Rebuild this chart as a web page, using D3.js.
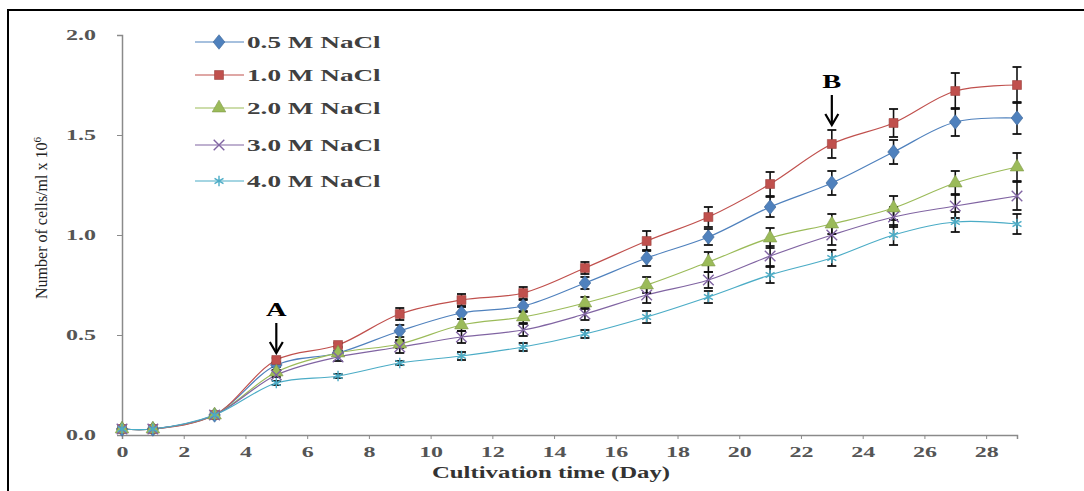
<!DOCTYPE html>
<html>
<head>
<meta charset="utf-8">
<script src="https://cdn.jsdelivr.net/npm/d3@7"></script>
<style>
  body { margin: 0; background: #fff; }
  svg { display: block; }
</style>
</head>
<body>
<script>
// days sampled
var days = [0, 1, 3, 5, 7, 9, 11, 13, 15, 17, 19, 21, 23, 25, 27, 29];

var nacl05 = [0.03, 0.03, 0.10, 0.35, 0.41, 0.52, 0.61, 0.645, 0.76, 0.885, 0.99, 1.14, 1.26, 1.415, 1.565, 1.585];
var nacl10 = [0.03, 0.03, 0.10, 0.375, 0.45, 0.605, 0.675, 0.71, 0.835, 0.97, 1.09, 1.255, 1.455, 1.56, 1.72, 1.75];
var nacl20 = [0.03, 0.03, 0.10, 0.315, 0.41, 0.455, 0.55, 0.59, 0.66, 0.75, 0.865, 0.985, 1.055, 1.135, 1.26, 1.34];
var nacl30 = [0.03, 0.03, 0.10, 0.30, 0.39, 0.44, 0.49, 0.525, 0.605, 0.70, 0.775, 0.895, 1.0, 1.09, 1.145, 1.195];
var nacl40 = [0.03, 0.03, 0.10, 0.26, 0.295, 0.36, 0.395, 0.44, 0.505, 0.59, 0.69, 0.80, 0.885, 1.0, 1.065, 1.055];

var err05 = [0, 0, 0, 0.01, 0.01, 0.03, 0.03, 0.03, 0.03, 0.04, 0.04, 0.05, 0.06, 0.06, 0.07, 0.08];
var err10 = [0, 0, 0, 0.01, 0.01, 0.03, 0.03, 0.03, 0.03, 0.05, 0.05, 0.06, 0.07, 0.07, 0.09, 0.09];
var err20 = [0, 0, 0, 0.01, 0.01, 0.02, 0.03, 0.03, 0.03, 0.04, 0.05, 0.05, 0.05, 0.06, 0.06, 0.07];
var err30 = [0, 0, 0, 0.01, 0.02, 0.03, 0.03, 0.03, 0.03, 0.04, 0.04, 0.05, 0.05, 0.05, 0.06, 0.07];
var err40 = [0, 0, 0, 0.01, 0.01, 0.01, 0.02, 0.02, 0.02, 0.03, 0.03, 0.04, 0.04, 0.05, 0.05, 0.05];

var seriesNames = ["0.5 M NaCl", "1.0 M NaCl", "2.0 M NaCl", "3.0 M NaCl", "4.0 M NaCl"];
var seriesColors = ["#4F81BD", "#C0504D", "#9BBB59", "#8064A2", "#4BACC6"];
var xTicks = [0, 2, 4, 6, 8, 10, 12, 14, 16, 18, 20, 22, 24, 26, 28];
var yTicks = [0.0, 0.5, 1.0, 1.5, 2.0];

var series = [
  { name: seriesNames[0], color: seriesColors[0], values: nacl05, err: err05, shape: d3.symbolDiamond, size: 75, stroke: false },
  { name: seriesNames[1], color: seriesColors[1], values: nacl10, err: err10, shape: d3.symbolSquare, size: 80, stroke: false },
  { name: seriesNames[2], color: seriesColors[2], values: nacl20, err: err20, shape: d3.symbolTriangle, size: 80, stroke: false },
  { name: seriesNames[3], color: seriesColors[3], values: nacl30, err: err30, shape: d3.symbolX, size: 75, stroke: true },
  { name: seriesNames[4], color: seriesColors[4], values: nacl40, err: err40, shape: d3.symbolAsterisk, size: 75, stroke: true }
];

var W = 1084, H = 491;
var SX = 1.6; // the picture's text is stretched wide
var svg = d3.select("body").append("svg").attr("width", W).attr("height", H);

// frame (only top & left edges visible)
svg.append("path")
  .attr("d", "M8,491 L8,10 L1084,10")
  .attr("fill", "none")
  .attr("stroke", "#000")
  .attr("stroke-width", 2);

var x = d3.scaleLinear().domain([0, 29]).range([122, 1017]);
var y = d3.scaleLinear().domain([0, 2]).range([435, 35]);

// y axis
var yAxis = svg.append("g")
  .attr("transform", "translate(122,0)")
  .call(d3.axisLeft(y).tickValues(yTicks).tickFormat(d3.format(".1f")).tickSize(5).tickPadding(21));
// x axis
var xAxis = svg.append("g")
  .attr("transform", "translate(0,435)")
  .call(d3.axisBottom(x).tickValues(xTicks).tickSize(4).tickPadding(7));

[xAxis, yAxis].forEach(function(a) {
  a.select(".domain").attr("stroke", "#8a8a8a").attr("stroke-width", 1.5);
  a.selectAll(".tick line").attr("stroke", "#8a8a8a");
  a.selectAll(".tick text")
    .attr("fill", "#555")
    .attr("font-family", "Liberation Serif, serif")
    .attr("font-weight", "bold")
    .attr("font-size", 15)
    .attr("transform", "scale(" + SX + ",1)");
});
yAxis.selectAll(".tick text").attr("x", -26 / SX);

// axis titles
svg.append("text")
  .attr("transform", "translate(551,478) scale(1.55,1)")
  .attr("text-anchor", "middle")
  .attr("font-family", "Liberation Serif, serif")
  .attr("font-weight", "bold")
  .attr("font-size", 16)
  .attr("fill", "#333")
  .text("Cultivation time (Day)");

var yt = svg.append("text")
  .attr("transform", "translate(47,218) rotate(-90)")
  .attr("text-anchor", "middle")
  .attr("font-family", "Liberation Sans Narrow, Liberation Serif, serif")
  .attr("font-size", 16)
  .attr("fill", "#222");
yt.append("tspan").text("Number of cells/ml x 10");
yt.append("tspan").attr("dy", -6).attr("font-size", 11).text("6");

// lines
var line = d3.line()
  .x(function(d, i) { return x(days[i]); })
  .y(function(d) { return y(d); })
  .curve(d3.curveCatmullRom.alpha(0.5));

series.forEach(function(s) {
  svg.append("path")
    .datum(s.values)
    .attr("d", line)
    .attr("fill", "none")
    .attr("stroke", s.color)
    .attr("stroke-width", 1.2);
});

// error bars
series.forEach(function(s) {
  var g = svg.append("g");
  s.values.forEach(function(v, i) {
    var e = s.err[i];
    if (!e) return;
    var cx = x(days[i]);
    g.append("line").attr("x1", cx).attr("x2", cx).attr("y1", y(v - e)).attr("y2", y(v + e))
      .attr("stroke", "#111").attr("stroke-width", 1.6);
    [v - e, v + e].forEach(function(t) {
      g.append("line").attr("x1", cx - 4.5).attr("x2", cx + 4.5).attr("y1", y(t)).attr("y2", y(t))
        .attr("stroke", "#111").attr("stroke-width", 1.8);
    });
  });
});

// markers
function drawMarker(g, s, cx, cy) {
  var p = g.append("path")
    .attr("d", d3.symbol().type(s.shape).size(s.size)())
    .attr("transform", "translate(" + cx + "," + cy + ")" + (s.shape === d3.symbolDiamond ? " scale(1.25,0.9)" : ""));
  if (s.stroke) {
    p.attr("fill", "none").attr("stroke", s.color).attr("stroke-width", 1.4);
  } else {
    p.attr("fill", s.color).attr("stroke", d3.color(s.color).darker(0.6)).attr("stroke-width", 0.6);
  }
}

series.forEach(function(s) {
  var g = svg.append("g");
  s.values.forEach(function(v, i) {
    drawMarker(g, s, x(days[i]), y(v));
  });
});

// legend
var legY = [42, 75, 108, 145, 181];
series.forEach(function(s, i) {
  var g = svg.append("g");
  g.append("line").attr("x1", 195).attr("x2", 244).attr("y1", legY[i]).attr("y2", legY[i])
    .attr("stroke", s.color).attr("stroke-width", 1.2);
  drawMarker(g, s, 219, legY[i]);
  g.append("text")
    .attr("transform", "translate(247," + (legY[i] + 6) + ") scale(" + SX + ",1)")
    .attr("font-family", "Liberation Serif, serif")
    .attr("font-weight", "bold")
    .attr("font-size", 17)
    .attr("fill", "#404040")
    .text(s.name);
});

// annotations A and B, placed above the top of the error bar
function annot(label, i) {
  var cx = x(days[i]), top = y(nacl10[i] + err10[i]);
  svg.append("text")
    .attr("transform", "translate(" + cx + "," + (top - 42) + ") scale(1.5,1)")
    .attr("text-anchor", "middle")
    .attr("font-family", "Liberation Serif, serif")
    .attr("font-weight", "bold")
    .attr("font-size", 19)
    .attr("fill", "#000")
    .text(label);
  svg.append("line").attr("x1", cx).attr("x2", cx).attr("y1", top - 35).attr("y2", top - 6)
    .attr("stroke", "#000").attr("stroke-width", 2.2);
  svg.append("path")
    .attr("d", "M" + (cx - 6.5) + "," + (top - 16) + " L" + cx + "," + (top - 5) + " L" + (cx + 6.5) + "," + (top - 16))
    .attr("fill", "none").attr("stroke", "#000").attr("stroke-width", 2.2);
}
annot("A", 3);
annot("B", 12);
</script>
</body>
</html>
